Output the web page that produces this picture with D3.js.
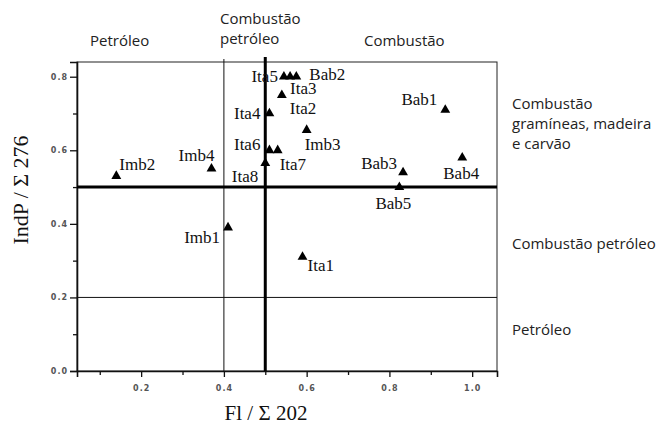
<!DOCTYPE html>
<html>
<head>
<meta charset="utf-8">
<script src="https://cdn.jsdelivr.net/npm/d3@7"></script>
<style>
  body { margin: 0; background: #fff; }
  svg { display: block; }
  .tick-lbl { font-family: "DejaVu Sans", sans-serif; font-size: 8px; font-weight: bold; fill: #555; letter-spacing: 1px; }
  .pt-lbl { font-family: "Liberation Serif", "Times New Roman", serif; font-size: 17px; fill: #111; }
  .zone { font-family: "Open Sans", sans-serif; font-size: 15px; fill: #222; }
  .ax-title { font-family: "Liberation Serif", serif; font-size: 21px; fill: #111; }
</style>
</head>
<body>
<div id="chart"></div>
<script>
// samples: Fl/Σ202 (x) and IndP/Σ276 (y)
const samples = ["Imb1","Imb2","Imb3","Imb4","Ita1","Ita2","Ita3","Ita4","Ita5","Ita6","Ita7","Ita8","Bab1","Bab2","Bab3","Bab4","Bab5"];
const flValues   = [0.41, 0.14, 0.60, 0.37, 0.59, 0.54, 0.56, 0.51, 0.545, 0.51, 0.53, 0.50, 0.935, 0.575, 0.833, 0.976, 0.824];
const indpValues = [0.39, 0.53, 0.655, 0.55, 0.31, 0.75, 0.80, 0.70, 0.80, 0.60, 0.60, 0.565, 0.71, 0.80, 0.54, 0.58, 0.50];

const xTicks = [0.2, 0.4, 0.6, 0.8, 1.0];
const yTicks = [0.0, 0.2, 0.4, 0.6, 0.8];
const xMinor = [0.1, 0.3, 0.5, 0.7, 0.9];
const yMinor = [0.1, 0.3, 0.5, 0.7];

// dividing lines of the zones
const xThin = 0.4, xThick = 0.5;
const yThin = 0.2, yThick = 0.5;

// label placement relative to its marker: [anchor, dx, dy]
const labelPos = {
  Imb1: ["end", -8, 10], Imb2: ["start", 3, -12], Imb3: ["start", -2, 14], Imb4: ["end", 3, -13],
  Ita1: ["start", 5, 9], Ita2: ["start", 8, 13], Ita3: ["start", 0, 12], Ita4: ["end", -9, 0],
  Ita5: ["end", -6, 0], Ita6: ["end", -9, -6], Ita7: ["start", 2, 14], Ita8: ["end", -7, 13],
  Bab1: ["end", -8, -10], Bab2: ["start", 13, -2], Bab3: ["end", -6, -9], Bab4: ["middle", -1, 16],
  Bab5: ["middle", -6, 16]
};

const W = 662, H = 425;
const margin = { top: 62, left: 77 };
const width = 420, height = 309;

const svg = d3.select("#chart").append("svg")
  .attr("width", W).attr("height", H);

const g = svg.append("g")
  .attr("transform", `translate(${margin.left},${margin.top})`);

const x = d3.scaleLinear().domain([0.045, 1.06]).range([0, width]);
const y = d3.scaleLinear().domain([0, 0.84]).range([height, 0]);

// frame
g.append("rect")
  .attr("width", width).attr("height", height)
  .attr("fill", "none").attr("stroke", "#222").attr("stroke-width", 1);

// axes
const xAxis = g.append("g").attr("transform", `translate(0,${height})`)
  .call(d3.axisBottom(x).tickValues(xTicks).tickSize(6).tickFormat(d3.format(".1f")));
const yAxis = g.append("g")
  .call(d3.axisLeft(y).tickValues(yTicks).tickSize(7).tickFormat(d3.format(".1f")));

[xAxis, yAxis].forEach(a => {
  a.select(".domain").attr("stroke", "#111").attr("stroke-width", 1.6);
  a.selectAll(".tick line").attr("stroke", "#111").attr("stroke-width", 1.3);
  a.selectAll(".tick text").attr("class", "tick-lbl").attr("font-family", null).attr("font-size", null);
});
xAxis.selectAll(".tick text").attr("dy", "1.4em");
yAxis.selectAll(".tick text").attr("x", -9);

g.append("g").attr("transform", `translate(0,${height})`)
  .call(d3.axisBottom(x).tickValues(xMinor).tickSize(4).tickFormat(""))
  .call(a => a.select(".domain").remove())
  .selectAll("line").attr("stroke", "#111").attr("stroke-width", 1.3);
g.append("g")
  .call(d3.axisLeft(y).tickValues(yMinor).tickSize(4).tickFormat(""))
  .call(a => a.select(".domain").remove())
  .selectAll("line").attr("stroke", "#111").attr("stroke-width", 1.3);

// zone lines
g.append("line")
  .attr("x1", x(xThin)).attr("x2", x(xThin)).attr("y1", -3).attr("y2", height)
  .attr("stroke", "#111").attr("stroke-width", 1);
g.append("line")
  .attr("x1", 0).attr("x2", width).attr("y1", y(yThin)).attr("y2", y(yThin))
  .attr("stroke", "#111").attr("stroke-width", 1);
g.append("line")
  .attr("x1", x(xThick)).attr("x2", x(xThick)).attr("y1", -5).attr("y2", height)
  .attr("stroke", "#000").attr("stroke-width", 3);
g.append("line")
  .attr("x1", 0).attr("x2", width).attr("y1", y(yThick)).attr("y2", y(yThick))
  .attr("stroke", "#000").attr("stroke-width", 3);

// markers
const pts = samples.map((s, i) => ({ name: s, fl: flValues[i], indp: indpValues[i] }));
const tri = d3.symbol().type(d3.symbolTriangle).size(42);

g.selectAll(".pt").data(pts).join("path")
  .attr("class", "pt")
  .attr("d", tri)
  .attr("transform", d => `translate(${x(d.fl)},${y(d.indp)})`)
  .attr("fill", "#000");

g.selectAll(".pt-lbl").data(pts).join("text")
  .attr("class", "pt-lbl")
  .attr("x", d => x(d.fl) + labelPos[d.name][1])
  .attr("y", d => y(d.indp) + labelPos[d.name][2])
  .attr("text-anchor", d => labelPos[d.name][0])
  .attr("dominant-baseline", "central")
  .text(d => d.name);

// axis titles
svg.append("text").attr("class", "ax-title")
  .attr("x", 266).attr("y", 420).attr("text-anchor", "middle")
  .text("Fl /  Σ 202");
svg.append("text").attr("class", "ax-title")
  .attr("transform", "translate(28,190) rotate(-90)")
  .attr("text-anchor", "middle")
  .style("font-size", "22px")
  .text("IndP / Σ 276");

// zone captions
const zoneText = (lines, px, py, anchor) => {
  const t = svg.append("text").attr("class", "zone").attr("text-anchor", anchor || "start");
  lines.forEach((l, i) => t.append("tspan").attr("x", px).attr("y", py + i * 20).text(l));
};
zoneText(["Petróleo"], 90, 46);
zoneText(["Combustão", "petróleo"], 220, 24);
zoneText(["Combustão"], 364, 46);
zoneText(["Combustão", "gramíneas, madeira", "e carvão"], 512, 109);
zoneText(["Combustão petróleo"], 512, 249);
zoneText(["Petróleo"], 512, 335);
</script>
</body>
</html>
